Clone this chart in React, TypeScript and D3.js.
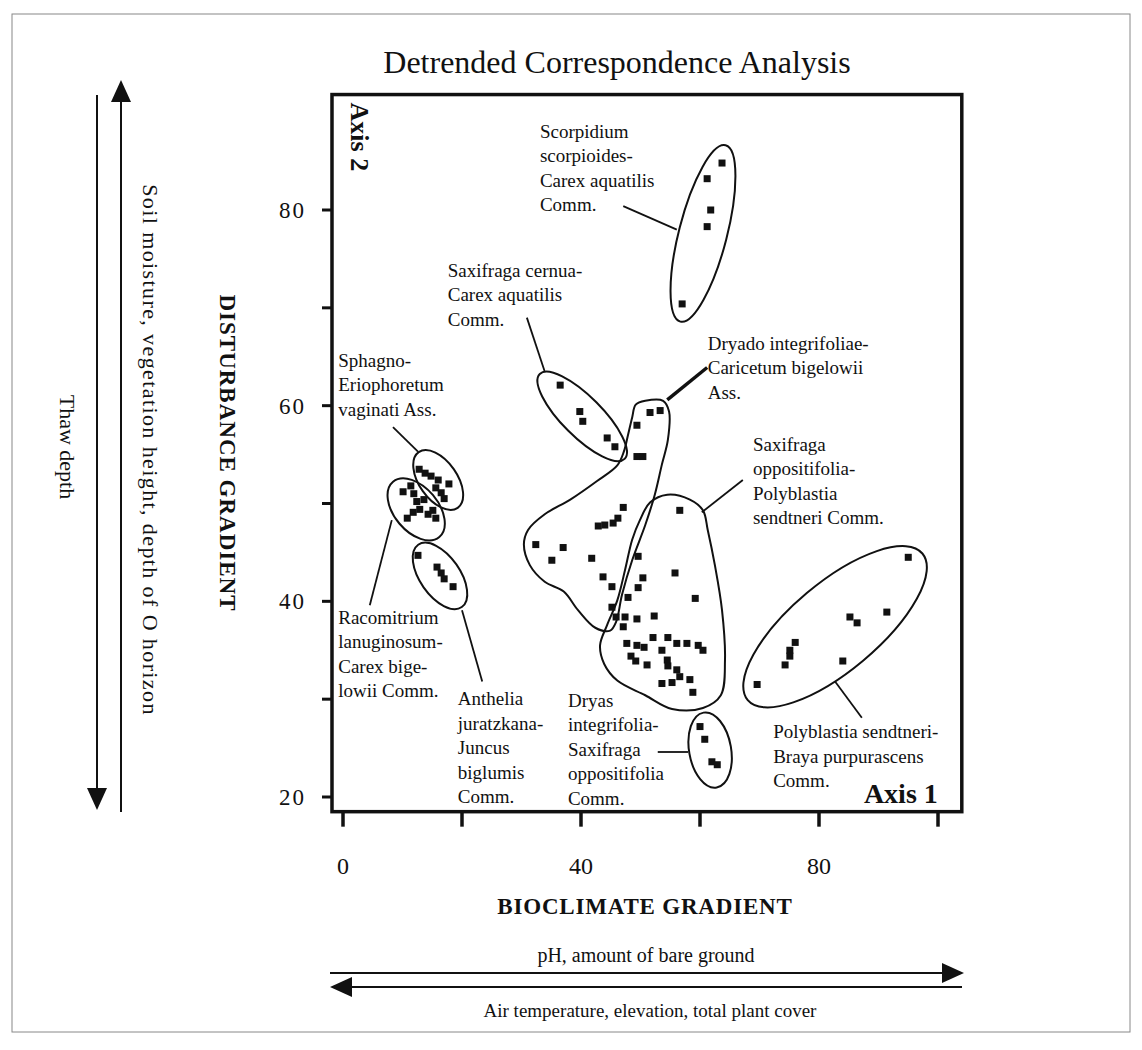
import React from 'react';
import * as d3 from 'd3';

const W = 1142;
const H = 1050;

// axis ticks
const xTickValues = [0, 20, 40, 60, 80, 100];
const xTickLabels = [0, 40, 80];
const yTickValues = [20, 30, 40, 50, 60, 70, 80];
const yTickLabels = [20, 40, 60, 80];
const frameXDomain = [-1.85, 104];
const frameYDomain = [18.5, 91.8];

// plot samples [axis1, axis2]
const scorpidium: [number, number][] = [[63.7, 84.8], [61.2, 83.2], [61.8, 80.0], [61.2, 78.3], [57.0, 70.4]];
const saxCernua: [number, number][] = [[36.5, 62.1], [39.8, 59.4], [40.3, 58.4], [44.4, 56.7], [45.7, 55.8]];
const dryado: [number, number][] = [
  [51.6, 59.3], [53.3, 59.5], [49.4, 58.0], [49.4, 54.8], [50.4, 54.8],
  [47.1, 49.6], [46.2, 48.5], [45.4, 48.0], [44.0, 47.8], [42.9, 47.7],
  [32.4, 45.8], [37.0, 45.5], [35.1, 44.2], [41.8, 44.4], [43.7, 42.5],
  [45.2, 41.5], [45.2, 39.4], [45.9, 38.4], [47.1, 37.4],
];
const saxOpp: [number, number][] = [
  [56.6, 49.3], [49.6, 44.6], [55.8, 42.9], [50.4, 42.4], [49.6, 41.4], [47.9, 40.4], [59.2, 40.3],
  [47.4, 38.4], [49.4, 38.2], [52.3, 38.5], [47.7, 35.7], [49.4, 35.5], [50.6, 35.3], [52.1, 36.3],
  [53.6, 35.0], [54.6, 36.3], [56.1, 35.7], [57.8, 35.7], [59.7, 35.5], [60.5, 35.0], [48.4, 34.4],
  [49.2, 33.9], [51.1, 33.5], [54.5, 34.0], [54.6, 33.4], [56.1, 33.0], [56.6, 32.3], [58.3, 32.0],
  [58.8, 30.7], [53.6, 31.6], [55.3, 31.7],
];
const dryas: [number, number][] = [[60.0, 27.2], [60.8, 25.9], [62.0, 23.6], [62.9, 23.3]];
const polyblastia: [number, number][] = [
  [95.0, 44.5], [91.4, 38.9], [85.2, 38.4], [86.4, 37.8], [76.0, 35.8],
  [75.1, 35.0], [75.1, 34.4], [74.3, 33.5], [84.0, 33.9], [69.6, 31.5],
];
const sphagno: [number, number][] = [
  [12.8, 53.5], [13.8, 53.1], [14.8, 52.8], [16.0, 52.4], [15.6, 51.6], [16.5, 51.1], [17.0, 50.5], [17.8, 52.0],
];
const racomitrium: [number, number][] = [
  [10.1, 51.2], [11.4, 51.8], [11.9, 51.0], [12.4, 50.2], [12.9, 49.4], [11.8, 49.1],
  [10.8, 48.5], [14.3, 48.9], [15.1, 49.3], [15.6, 48.5], [13.6, 50.4],
];
const anthelia: [number, number][] = [[12.6, 44.7], [15.8, 43.5], [16.5, 42.9], [17.0, 42.3], [18.5, 41.5]];

const allGroups = [scorpidium, saxCernua, dryado, saxOpp, dryas, polyblastia, sphagno, racomitrium, anthelia];

// community outlines
const dryadoHull: [number, number][] = [
  [49.2, 60.1], [50.8, 60.5], [53.8, 60.5], [54.8, 59.4], [54.6, 56.5], [53.6, 54.0], [52.4, 50.9],
  [50.8, 47.8], [48.6, 44.2], [46.9, 40.7], [45.9, 37.9], [44.9, 37.0], [42.4, 37.3], [39.5, 39.1],
  [37.1, 41.0], [33.9, 42.0], [31.4, 43.7], [30.4, 45.8], [31.1, 47.3], [33.9, 48.9], [38.2, 50.4],
  [42.7, 52.3], [46.1, 53.9], [47.2, 55.3], [47.9, 57.0], [48.6, 58.8],
];
const saxOppHull: [number, number][] = [
  [49.9, 48.3], [51.6, 50.1], [54.5, 50.9], [58.3, 50.4], [60.5, 49.3], [61.3, 47.3], [62.5, 43.7],
  [63.7, 39.1], [64.2, 34.0], [63.5, 30.4], [60.5, 29.1], [55.3, 29.0], [50.8, 30.4], [46.1, 31.9],
  [43.9, 33.6], [43.2, 35.5], [44.4, 37.6], [46.1, 40.1], [47.4, 43.2], [48.6, 46.3],
];
const ellipseCenters = [
  { name: 'scorpidium', c: [60.5, 77.6], rx: 91, ry: 24, rot: -75.6 },
  { name: 'saxCernua', c: [40.2, 58.9], rx: 60, ry: 20, rot: 45 },
  { name: 'sphagno', c: [16.0, 52.4], rx: 34, ry: 19, rot: 55 },
  { name: 'racomitrium', c: [12.3, 49.4], rx: 36, ry: 22, rot: 50 },
  { name: 'anthelia', c: [16.3, 42.6], rx: 38, ry: 20, rot: 55 },
  { name: 'dryas', c: [61.7, 24.8], rx: 38, ry: 21, rot: 80 },
  { name: 'polyblastia', c: [82.7, 37.4], rx: 114, ry: 44, rot: -40 },
];

const leaders: { a: [number, number]; b: [number, number]; heavy?: boolean }[] = [
  { a: [47.1, 80.4], b: [56.1, 78.0] },
  { a: [30.9, 69.0], b: [33.9, 63.5] },
  { a: [61.2, 63.9], b: [54.5, 60.6], heavy: true },
  { a: [67.2, 52.4], b: [60.3, 49.1] },
  { a: [8.4, 57.8], b: [12.6, 55.3] },
  { a: [4.5, 39.6], b: [8.2, 48.3] },
  { a: [20.0, 39.1], b: [23.4, 31.8] },
  { a: [52.9, 24.6], b: [58.0, 24.6] },
  { a: [87.2, 28.1], b: [82.7, 31.8] },
];

const communityLabels: { at: [number, number]; lines: string[] }[] = [
  { at: [33.1, 87.4], lines: ['Scorpidium', 'scorpioides-', 'Carex aquatilis', 'Comm.'] },
  { at: [17.6, 73.2], lines: ['Saxifraga cernua-', 'Carex aquatilis', 'Comm.'] },
  { at: [61.3, 65.7], lines: ['Dryado integrifoliae-', 'Caricetum bigelowii', 'Ass.'] },
  { at: [68.9, 55.4], lines: ['Saxifraga', 'oppositifolia-', 'Polyblastia', 'sendtneri Comm.'] },
  { at: [-0.8, 64.0], lines: ['Sphagno-', 'Eriophoretum', 'vaginati Ass.'] },
  { at: [-0.8, 37.7], lines: ['Racomitrium', 'lanuginosum-', 'Carex bige-', 'lowii Comm.'] },
  { at: [19.3, 29.4], lines: ['Anthelia', 'juratzkana-', 'Juncus', 'biglumis', 'Comm.'] },
  { at: [37.8, 29.2], lines: ['Dryas', 'integrifolia-', 'Saxifraga', 'oppositifolia', 'Comm.'] },
  { at: [72.3, 26.0], lines: ['Polyblastia sendtneri-', 'Braya purpurascens', 'Comm.'] },
];

const FONT = '"Liberation Serif", "Times New Roman", serif';

export default function App() {
  const x = d3.scaleLinear().domain([0, 100]).range([343, 938]);
  const y = d3.scaleLinear().domain([20, 80]).range([797, 210]);
  const hullLine = d3
    .line<[number, number]>()
    .x((d) => x(d[0]))
    .y((d) => y(d[1]))
    .curve(d3.curveCatmullRomClosed.alpha(0.5));

  const fl = x(frameXDomain[0]);
  const fr = x(frameXDomain[1]);
  const ft = y(frameYDomain[1]);
  const fb = y(frameYDomain[0]);
  const lh = 24.5;
  const sq = 7;

  return (
    <svg
      width={W}
      height={H}
      viewBox={`0 0 ${W} ${H}`}
      style={{ position: 'absolute', left: 0, top: 0, background: '#fff' }}
      fontFamily={FONT}
    >
      <rect x={0} y={0} width={W} height={H} fill="#fff" />
      <rect x={12} y={14} width={1118} height={1018} fill="none" stroke="#888" strokeWidth={1} />

      <text x={617} y={73} fontSize={32} textAnchor="middle" fill="#111">
        Detrended Correspondence Analysis
      </text>

      {/* left gradient arrows */}
      <line x1={97} y1={95} x2={97} y2={790} stroke="#111" strokeWidth={2} />
      <path d="M87,788 L107,788 L97,810 Z" fill="#111" />
      <line x1={121} y1={812} x2={121} y2={100} stroke="#111" strokeWidth={2} />
      <path d="M111,102 L131,102 L121,80 Z" fill="#111" />
      <text transform="translate(60,447) rotate(90)" fontSize={22} textAnchor="middle" fill="#111">
        Thaw depth
      </text>
      <text
        transform="translate(143,450) rotate(90)"
        fontSize={22}
        letterSpacing={1.4}
        textAnchor="middle"
        fill="#111"
      >
        Soil moisture, vegetation height, depth of O horizon
      </text>
      <text
        transform="translate(220,453) rotate(90)"
        fontSize={23}
        fontWeight="bold"
        letterSpacing={1}
        textAnchor="middle"
        fill="#111"
      >
        DISTURBANCE GRADIENT
      </text>

      {/* y ticks */}
      {yTickValues.map((v) => (
        <line key={'yt' + v} x1={fl - 10} x2={fl} y1={y(v)} y2={y(v)} stroke="#111" strokeWidth={3} />
      ))}
      {yTickLabels.map((v) => (
        <text key={'yl' + v} x={306} y={y(v) + 8} fontSize={23} textAnchor="end" letterSpacing={2} fill="#111">
          {v}
        </text>
      ))}

      {/* x ticks */}
      {xTickValues.map((v) => (
        <line key={'xt' + v} x1={x(v)} x2={x(v)} y1={fb} y2={fb + 15} stroke="#111" strokeWidth={3.5} />
      ))}
      {xTickLabels.map((v) => (
        <text key={'xl' + v} x={x(v)} y={874} fontSize={24} textAnchor="middle" fill="#111">
          {v}
        </text>
      ))}

      {/* outlines */}
      <path d={hullLine(dryadoHull) || ''} fill="none" stroke="#111" strokeWidth={2} />
      <path d={hullLine(saxOppHull) || ''} fill="none" stroke="#111" strokeWidth={2} />
      {ellipseCenters.map((e) => {
        const cx = x(e.c[0]);
        const cy = y(e.c[1]);
        return (
          <ellipse
            key={e.name}
            cx={cx}
            cy={cy}
            rx={e.rx}
            ry={e.ry}
            transform={`rotate(${e.rot},${cx},${cy})`}
            fill="none"
            stroke="#111"
            strokeWidth={2}
          />
        );
      })}

      {/* leaders */}
      {leaders.map((l, i) => (
        <line
          key={'ld' + i}
          x1={x(l.a[0])}
          y1={y(l.a[1])}
          x2={x(l.b[0])}
          y2={y(l.b[1])}
          stroke="#111"
          strokeWidth={l.heavy ? 3.5 : 1.8}
        />
      ))}

      {/* points */}
      {allGroups.map((g, gi) =>
        g.map((p, pi) => (
          <rect
            key={`p${gi}-${pi}`}
            x={x(p[0]) - sq / 2}
            y={y(p[1]) - sq / 2}
            width={sq}
            height={sq}
            fill="#111"
          />
        ))
      )}

      {/* labels */}
      {communityLabels.map((c, i) => (
        <text key={'cl' + i} x={x(c.at[0])} y={y(c.at[1])} fontSize={19} fill="#111">
          {c.lines.map((t, j) => (
            <tspan key={j} x={x(c.at[0])} dy={j === 0 ? 0 : lh}>
              {t}
            </tspan>
          ))}
        </text>
      ))}

      <text transform={`translate(${fl + 19},${ft + 8}) rotate(90)`} fontSize={26} fontWeight="bold" fill="#111">
        Axis 2
      </text>
      <text x={fr - 24} y={fb - 9} fontSize={28} fontWeight="bold" textAnchor="end" fill="#111">
        Axis 1
      </text>

      {/* frame */}
      <rect x={fl} y={ft} width={fr - fl} height={fb - ft} fill="none" stroke="#111" strokeWidth={3.5} />

      {/* bottom gradient */}
      <text x={645} y={914} fontSize={23} fontWeight="bold" letterSpacing={0.8} textAnchor="middle" fill="#111">
        BIOCLIMATE GRADIENT
      </text>
      <text x={646} y={962} fontSize={20} textAnchor="middle" fill="#111">
        pH, amount of bare ground
      </text>
      <line x1={330} y1={973} x2={945} y2={973} stroke="#111" strokeWidth={2} />
      <path d="M942,963 L942,983 L964,973 Z" fill="#111" />
      <line x1={350} y1={987} x2={962} y2={987} stroke="#111" strokeWidth={2} />
      <path d="M352,977 L352,997 L330,987 Z" fill="#111" />
      <text x={650} y={1017} fontSize={19} textAnchor="middle" fill="#111">
        Air temperature, elevation, total plant cover
      </text>
    </svg>
  );
}
